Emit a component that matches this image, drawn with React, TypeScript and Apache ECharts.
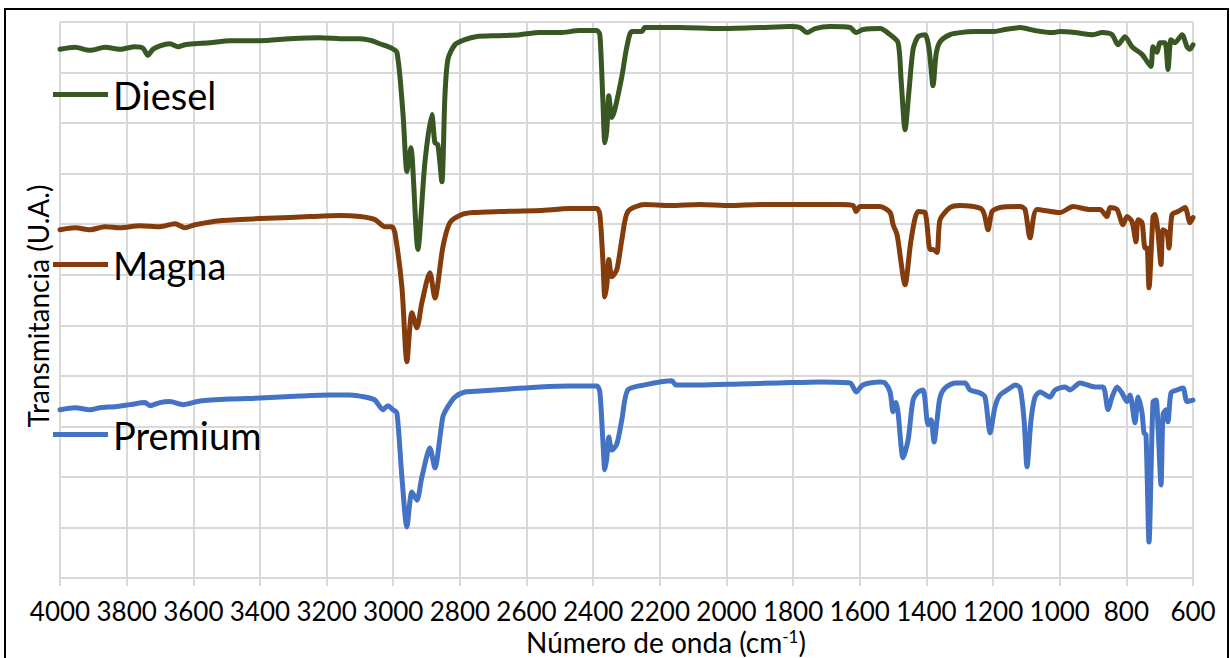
import React, { useEffect, useRef } from "react";
import * as echarts from "echarts";

// Wavenumbers (cm^-1) and transmittance (arbitrary units, offset traces)
const dieselWn = [4000, 3955, 3910, 3865, 3820, 3775, 3751, 3736, 3721, 3700, 3670, 3646, 3625, 3595, 3550, 3490, 3400, 3310, 3220, 3145, 3100, 3064, 3040, 3010, 2989, 2971, 2959, 2953, 2947, 2926, 2905, 2884, 2875, 2866, 2854, 2845, 2836, 2815, 2785, 2752, 2680, 2620, 2560, 2500, 2440, 2389, 2380, 2371, 2365, 2359, 2353, 2344, 2335, 2314, 2299, 2284, 2254, 2245, 2140, 2020, 1900, 1809, 1779, 1758, 1734, 1689, 1629, 1611, 1590, 1539, 1509, 1485, 1476, 1464, 1452, 1440, 1425, 1404, 1392, 1380, 1371, 1359, 1329, 1299, 1254, 1200, 1164, 1119, 1074, 1023, 999, 954, 900, 873, 843, 825, 804, 783, 753, 738, 726, 720, 708, 699, 684, 675, 666, 654, 633, 618, 609, 600];
const dieselT = [10.46, 10.5, 10.44, 10.5, 10.46, 10.51, 10.48, 10.34, 10.46, 10.53, 10.57, 10.51, 10.55, 10.57, 10.59, 10.63, 10.63, 10.67, 10.69, 10.67, 10.67, 10.63, 10.57, 10.5, 10.4, 9.21, 8.04, 8.28, 8.51, 6.5, 8.22, 9.17, 8.61, 8.57, 7.84, 9.52, 10.26, 10.55, 10.65, 10.71, 10.73, 10.75, 10.79, 10.79, 10.83, 10.83, 10.75, 9.47, 8.61, 8.87, 9.54, 9.11, 9.27, 9.92, 10.51, 10.81, 10.81, 10.89, 10.89, 10.87, 10.89, 10.91, 10.89, 10.79, 10.87, 10.91, 10.89, 10.79, 10.85, 10.87, 10.75, 10.59, 9.86, 8.87, 9.66, 10.46, 10.71, 10.75, 10.46, 9.74, 10.36, 10.61, 10.75, 10.79, 10.81, 10.81, 10.85, 10.89, 10.83, 10.79, 10.81, 10.79, 10.75, 10.79, 10.75, 10.55, 10.71, 10.51, 10.36, 10.22, 10.12, 10.51, 10.4, 10.59, 10.59, 10.06, 10.65, 10.59, 10.75, 10.51, 10.46, 10.55];

const magnaWn = [4000, 3955, 3910, 3865, 3820, 3760, 3700, 3655, 3625, 3595, 3520, 3400, 3310, 3250, 3160, 3100, 3055, 3025, 3004, 2995, 2974, 2959, 2944, 2929, 2914, 2890, 2875, 2851, 2830, 2794, 2761, 2680, 2560, 2470, 2389, 2380, 2371, 2365, 2359, 2353, 2344, 2329, 2314, 2296, 2245, 2170, 2080, 1990, 1900, 1779, 1659, 1620, 1611, 1599, 1539, 1509, 1500, 1488, 1464, 1446, 1425, 1404, 1389, 1380, 1368, 1359, 1329, 1299, 1233, 1215, 1203, 1179, 1119, 1104, 1089, 1068, 999, 960, 909, 879, 858, 849, 828, 810, 798, 783, 771, 765, 753, 744, 738, 732, 720, 714, 705, 696, 690, 678, 672, 663, 645, 624, 609, 600];
const magnaT = [6.89, 6.93, 6.89, 6.95, 6.93, 6.97, 6.95, 7.01, 6.93, 6.99, 7.07, 7.11, 7.13, 7.15, 7.17, 7.15, 7.09, 6.95, 6.95, 6.83, 5.76, 4.28, 5.25, 4.95, 5.45, 6.04, 5.54, 6.55, 7.03, 7.19, 7.23, 7.25, 7.27, 7.31, 7.31, 7.19, 6.3, 5.56, 5.8, 6.3, 5.96, 6.1, 6.69, 7.25, 7.39, 7.37, 7.39, 7.37, 7.39, 7.39, 7.39, 7.37, 7.25, 7.35, 7.35, 7.23, 6.99, 6.79, 5.8, 6.69, 7.25, 7.23, 6.5, 6.5, 6.44, 7.09, 7.33, 7.37, 7.29, 6.89, 7.25, 7.33, 7.35, 7.29, 6.73, 7.29, 7.23, 7.35, 7.29, 7.29, 7.15, 7.33, 7.29, 6.99, 7.15, 7.05, 6.65, 7.09, 7.03, 6.53, 6.53, 5.74, 7.15, 7.19, 6.83, 6.2, 6.89, 6.83, 6.53, 7.19, 7.25, 7.33, 7.03, 7.13];

const premiumWn = [4000, 3955, 3910, 3880, 3835, 3790, 3745, 3730, 3700, 3670, 3631, 3580, 3490, 3400, 3280, 3190, 3130, 3085, 3055, 3031, 3016, 3001, 2989, 2974, 2959, 2944, 2929, 2914, 2890, 2875, 2851, 2836, 2815, 2785, 2740, 2650, 2560, 2470, 2389, 2380, 2371, 2365, 2359, 2353, 2344, 2329, 2314, 2296, 2245, 2164, 2152, 2080, 1960, 1840, 1719, 1629, 1611, 1590, 1539, 1524, 1509, 1500, 1491, 1485, 1470, 1455, 1440, 1425, 1410, 1395, 1386, 1377, 1368, 1359, 1344, 1314, 1284, 1269, 1239, 1224, 1209, 1194, 1179, 1149, 1134, 1119, 1107, 1098, 1086, 1074, 1059, 1029, 1014, 984, 969, 939, 894, 870, 855, 843, 828, 813, 798, 789, 774, 765, 753, 747, 741, 732, 720, 711, 705, 696, 690, 681, 675, 666, 648, 630, 618, 600];
const premiumT = [3.33, 3.37, 3.33, 3.37, 3.39, 3.43, 3.47, 3.41, 3.47, 3.49, 3.43, 3.5, 3.54, 3.56, 3.6, 3.62, 3.62, 3.58, 3.52, 3.33, 3.41, 3.33, 3.27, 2.0, 1.01, 1.7, 1.54, 2.0, 2.57, 2.18, 3.19, 3.39, 3.58, 3.68, 3.7, 3.74, 3.78, 3.8, 3.8, 3.68, 2.73, 2.14, 2.38, 2.79, 2.53, 2.65, 3.13, 3.72, 3.82, 3.9, 3.82, 3.82, 3.84, 3.86, 3.88, 3.86, 3.68, 3.82, 3.88, 3.86, 3.68, 3.29, 3.47, 3.27, 2.38, 2.73, 3.52, 3.68, 3.72, 3.03, 3.13, 2.69, 3.13, 3.58, 3.76, 3.86, 3.86, 3.72, 3.66, 3.58, 2.87, 3.39, 3.62, 3.76, 3.82, 3.76, 3.13, 2.2, 3.13, 3.58, 3.68, 3.58, 3.72, 3.78, 3.72, 3.86, 3.78, 3.78, 3.33, 3.58, 3.78, 3.66, 3.49, 3.62, 3.07, 3.58, 3.27, 2.87, 2.83, 0.71, 3.49, 3.52, 2.99, 1.84, 3.23, 3.33, 3.09, 3.66, 3.72, 3.76, 3.49, 3.52];

const seriesNames = ["Diesel", "Magna", "Premium"];
const seriesColors = ["#385723", "#843C0C", "#4472C4"];

const FONT = "Lato, 'Open Sans', sans-serif";

function pairs(xs: number[], ys: number[]) {
  return xs.map((x, i) => [x, ys[i]]);
}

export default function App() {
  const ref = useRef<HTMLDivElement>(null);
  useEffect(() => {
    if (!ref.current) return;
    const chart = echarts.init(ref.current, undefined, { renderer: "svg" });
    const datasets = [
      pairs(dieselWn, dieselT),
      pairs(magnaWn, magnaT),
      pairs(premiumWn, premiumT),
    ];
    chart.setOption({
      animation: false,
      backgroundColor: "#ffffff",
      grid: { left: 60, right: 37, top: 22, bottom: 80, containLabel: false },
      xAxis: {
        type: "value",
        min: 600,
        max: 4000,
        interval: 200,
        inverse: true,
        axisLine: { show: true, lineStyle: { color: "#d9d9d9", width: 2 } },
        axisTick: { show: true, length: 8, lineStyle: { color: "#d9d9d9", width: 2 } },
        axisLabel: {
          color: "#000",
          fontSize: 26,
          lineHeight: 27,
          fontFamily: FONT,
          margin: 19,
          formatter: (v: number) => String(v),
        },
        splitLine: { show: true, lineStyle: { color: "#d9d9d9", width: 2 } },
      },
      yAxis: {
        type: "value",
        min: 0,
        max: 11,
        interval: 1,
        axisLine: { show: false },
        axisTick: { show: false },
        axisLabel: { show: false },
        splitLine: { show: true, lineStyle: { color: "#d9d9d9", width: 2 } },
      },
      legend: {
        orient: "vertical",
        left: 53,
        top: 72,
        padding: 0,
        icon: "rect",
        itemWidth: 55,
        itemHeight: 5,
        itemGap: 125,
        data: seriesNames,
        textStyle: { fontSize: 38, fontFamily: FONT, color: "#000", lineHeight: 45 },
      },
      series: seriesNames.map((name, i) => ({
        name,
        type: "line",
        data: datasets[i],
        showSymbol: false,
        symbol: "none",
        smooth: 0.25,
        color: seriesColors[i],
        lineStyle: { color: seriesColors[i], width: 5, join: "round", cap: "round" },
      })),
      graphic: [
        {
          type: "rect",
          shape: { x: 5, y: 9, width: 1223, height: 660 },
          style: { fill: "none", stroke: "#000", lineWidth: 2 },
          silent: true,
        },
        {
          type: "text",
          x: 38,
          y: 306,
          rotation: Math.PI / 2,
          style: {
            text: "Transmitancia (U.A.)",
            fontSize: 28,
            fontFamily: FONT,
            fill: "#000",
            align: "center",
            verticalAlign: "middle",
          },
        },
        {
          type: "text",
          x: 666,
          y: 642,
          style: {
            text: "Número de onda (cm{sup|-1})",
            fontSize: 28,
            lineHeight: 28,
            fontFamily: FONT,
            fill: "#000",
            align: "center",
            verticalAlign: "middle",
            rich: {
              sup: { fontSize: 17, lineHeight: 28, fontFamily: FONT, fill: "#000", verticalAlign: "top", padding: [0, 0, 10, 0] },
            },
          },
        },
      ],
    });
    return () => chart.dispose();
  }, []);
  return (
    <div
      ref={ref}
      style={{ position: "absolute", left: 0, top: 0, width: 1230, height: 658 }}
    />
  );
}
